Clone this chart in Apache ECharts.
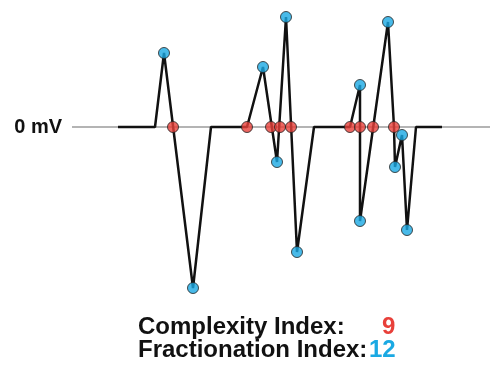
<!DOCTYPE html>
<html>
<head>
<meta charset="utf-8">
<script src="https://cdn.jsdelivr.net/npm/echarts@6/dist/echarts.min.js"></script>
<style>html,body{margin:0;padding:0;background:#fff}#c{width:490px;height:366px}</style>
</head>
<body>
<div id="c"></div>
<script>
// Signal trace (time units, mV)
var traceT = [46, 83, 92, 121, 139, 175, 191, 205, 214, 225, 242, 278, 288, 288, 288, 316, 322, 323, 330, 335, 344, 370];
var traceV = [0, 0, 0.74, -1.61, 0, 0, 0.60, -0.35, 1.10, -1.25, 0, 0, 0.42, 0, -0.94, 1.05, 0, -0.40, -0.08, -1.03, 0, 0];
// Zero crossings (red) -> complexity
var crossT = [101, 175, 199, 208, 219, 278, 288, 301, 322];
// Deflection peaks (blue) -> fractionation
var peakT = [92, 121, 191, 205, 214, 225, 288, 288, 316, 323, 330, 335];
var peakV = [0.74, -1.61, 0.60, -0.35, 1.10, -1.25, 0.42, -0.94, 1.05, -0.40, -0.08, -1.03];
var baselineT = [0, 418];
var labels = ['Complexity Index:', 'Fractionation Index:'];

var trace = traceT.map(function (t, i) { return [t, traceV[i]]; });
var crosses = crossT.map(function (t) { return [t, 0]; });
var peaks = peakT.map(function (t, i) { return [t, peakV[i]]; });

var chart = echarts.init(document.getElementById('c'));
var bold = {fontFamily: 'Liberation Sans, Arial, sans-serif', fontWeight: 'bold', fontSize: 24, color: '#111'};
chart.setOption({
  animation: false,
  grid: {left: 72, right: 0, top: 0, bottom: 64},
  xAxis: {type: 'value', min: 0, max: 418, show: false},
  yAxis: {
    type: 'value', min: -1.75, max: 1.27, interval: 0.25,
    axisLine: {show: false}, axisTick: {show: false}, splitLine: {show: false},
    axisLabel: {
      margin: 10, fontSize: 20, fontWeight: 'bold', color: '#111',
      fontFamily: 'Liberation Sans, Arial, sans-serif',
      formatter: function (v) { return Math.abs(v) < 1e-9 ? '0 mV' : ''; }
    }
  },
  title: [
    {left: 138, top: 315, padding: 0, text: labels[0], textStyle: bold},
    {left: 382, top: 315, padding: 0, text: String(crossT.length), textStyle: Object.assign({}, bold, {color: '#e8403a'})},
    {left: 138, top: 338, padding: 0, text: labels[1], textStyle: bold},
    {left: 369, top: 338, padding: 0, text: String(peakT.length), textStyle: Object.assign({}, bold, {color: '#1aa9e3'})}
  ],
  series: [
    {type: 'line', data: baselineT.map(function (t) { return [t, 0]; }), symbol: 'none',
     lineStyle: {color: '#b4b4b4', width: 2}, z: 1},
    {type: 'line', data: trace, symbol: 'none', lineStyle: {color: '#111', width: 2.5}, z: 2},
    {type: 'scatter', data: crosses, symbolSize: 11,
     itemStyle: {color: '#e8403a', borderColor: '#222', borderWidth: 1}, z: 3},
    {type: 'scatter', data: peaks, symbolSize: 11,
     itemStyle: {color: '#1aa9e3', borderColor: '#222', borderWidth: 1}, z: 3}
  ]
});
</script>
</body>
</html>
